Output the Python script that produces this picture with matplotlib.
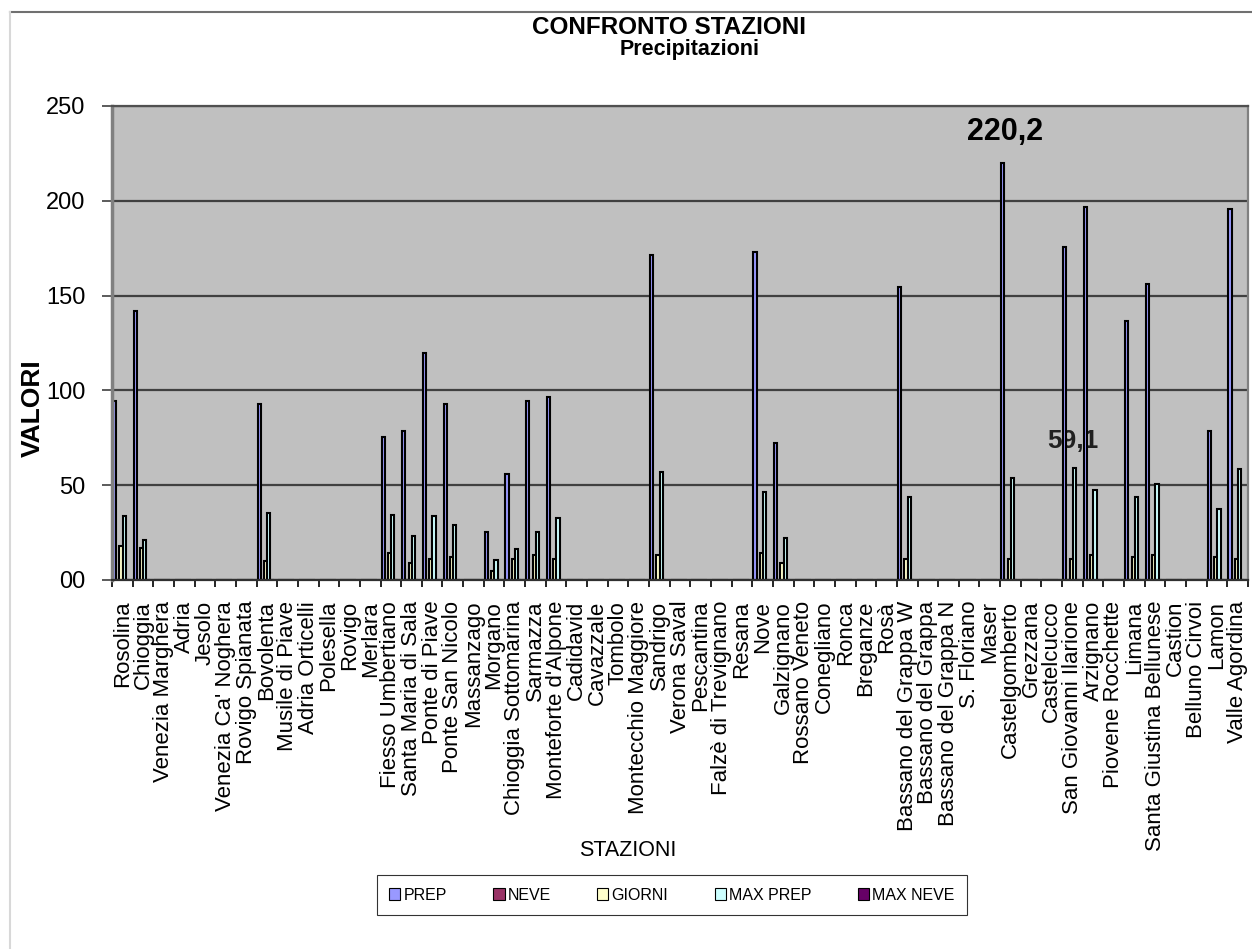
# =====================================
# CONFRONTO STAZIONI - PRECIPITAZIONI
# =====================================

import numpy as np
import matplotlib.pyplot as plt
from matplotlib.patches import Patch
from matplotlib.lines import Line2D
from matplotlib.ticker import FixedLocator

plt.rcParams["font.family"] = ["Liberation Sans", "DejaVu Sans"]

# ============================
# DATA
# ============================

stazioni = [
    "Rosolina", "Chioggia", "Venezia Marghera", "Adria", "Jesolo",
    "Venezia Ca' Noghera", "Rovigo Spianata", "Bovolenta", "Musile di Piave", "Adria Orticelli",
    "Polesella", "Rovigo", "Merlara", "Fiesso Umbertiano", "Santa Maria di Sala",
    "Ponte di Piave", "Ponte San Nicolo", "Massanzago", "Morgano", "Chioggia Sottomarina",
    "Sarmazza", "Monteforte d'Alpone", "Cadidavid", "Cavazzale", "Tombolo",
    "Montecchio Maggiore", "Sandrigo", "Verona Saval", "Pescantina", "Falzè di Trevignano",
    "Resana", "Nove", "Galzignano", "Rossano Veneto", "Conegliano",
    "Ronca", "Breganze", "Rosà", "Bassano del Grappa W", "Bassano del Grappa",
    "Bassano del Grappa N", "S. Floriano", "Maser", "Castelgomberto", "Grezzana",
    "Castelcucco", "San Giovanni Ilarione", "Arzignano", "Piovene Rocchette", "Limana",
    "Santa Giustina Bellunese", "Castion", "Belluno Cirvoi", "Lamon", "Valle Agordina",
]

prep = [
    94.4, 141.9, 0, 0, 0,
    0, 0, 92.8, 0, 0,
    0, 0, 0, 75.4, 78.6,
    119.7, 92.8, 0, 25.3, 56.0,
    94.4, 96.5, 0, 0, 0,
    0, 171.4, 0, 0, 0,
    0, 173.0, 72.0, 0, 0,
    0, 0, 0, 154.5, 0,
    0, 0, 0, 220.2, 0,
    0, 175.7, 196.7, 0, 136.6,
    156.0, 0, 0, 78.6, 195.6,
]

neve = [
    0, 0, 0, 0, 0,
    0, 0, 0, 0, 0,
    0, 0, 0, 0, 0,
    0, 0, 0, 0, 0,
    0, 0, 0, 0, 0,
    0, 0, 0, 0, 0,
    0, 0, 0, 0, 0,
    0, 0, 0, 0, 0,
    0, 0, 0, 0, 0,
    0, 0, 0, 0, 0,
    0, 0, 0, 0, 0,
]

giorni = [
    18, 17, 0, 0, 0,
    0, 0, 10, 0, 0,
    0, 0, 0, 14, 9,
    11, 12, 0, 5, 11,
    13, 11, 0, 0, 0,
    0, 13, 0, 0, 0,
    0, 14, 9, 0, 0,
    0, 0, 0, 11, 0,
    0, 0, 0, 11, 0,
    0, 11, 13, 0, 12,
    13, 0, 0, 12, 11,
]

max_prep = [
    33.7, 21.0, 0, 0, 0,
    0, 0, 35.3, 0, 0,
    0, 0, 0, 34.3, 23.0,
    33.7, 29.0, 0, 10.6, 16.3,
    25.3, 32.7, 0, 0, 0,
    0, 57.0, 0, 0, 0,
    0, 46.5, 22.0, 0, 0,
    0, 0, 0, 43.8, 0,
    0, 0, 0, 53.7, 0,
    0, 59.1, 47.5, 0, 44.0,
    50.6, 0, 0, 37.4, 58.5,
]

max_neve = [
    0, 0, 0, 0, 0,
    0, 0, 0, 0, 0,
    0, 0, 0, 0, 0,
    0, 0, 0, 0, 0,
    0, 0, 0, 0, 0,
    0, 0, 0, 0, 0,
    0, 0, 0, 0, 0,
    0, 0, 0, 0, 0,
    0, 0, 0, 0, 0,
    0, 0, 0, 0, 0,
    0, 0, 0, 0, 0,
]

serie_nomi = ["PREP", "NEVE", "GIORNI", "MAX PREP", "MAX NEVE"]
serie_colori = ["#9999FF", "#993366", "#FFFFCC", "#CCFFFF", "#660066"]
y_ticks = [0, 50, 100, 150, 200, 250]
y_tick_labels = ["00", "50", "100", "150", "200", "250"]

# ============================
# PLOT CHART
# ============================

fig = plt.figure(figsize=(12.52, 9.49), dpi=100)
ax = fig.add_axes([112 / 1252, 1 - 580 / 949, 1136 / 1252, 474 / 949])
ax.set_facecolor("#C0C0C0")
ax.set_axisbelow(True)

x = np.arange(len(stazioni))
w = 0.155
start = -0.45
for k, (vals, col) in enumerate(zip([prep, neve, giorni, max_prep, max_neve], serie_colori)):
    ax.bar(x + start + k * w, vals, width=w, align="edge",
           color=col, edgecolor="black", linewidth=1.5, zorder=2)

# annotations: max PREP and max MAX PREP
i_prep = int(np.argmax(prep))
ax.annotate(f"{prep[i_prep]:.1f}".replace(".", ","),
            xy=(i_prep + start + 0.5 * w, prep[i_prep]), xytext=(2, 11),
            textcoords="offset points", ha="center", va="bottom",
            fontsize=22, fontweight="bold", zorder=1)
i_max = int(np.argmax(max_prep))
ax.annotate(f"{max_prep[i_max]:.1f}".replace(".", ","),
            xy=(i_max + start + 3.5 * w, max_prep[i_max]), xytext=(-1, 11),
            textcoords="offset points", ha="center", va="bottom",
            fontsize=19, fontweight="bold", color="#202020", zorder=1)

# axes
ax.set_xlim(-0.5, len(stazioni) - 0.5)
ax.set_ylim(0, 250)
ax.set_yticks(y_ticks)
ax.set_yticklabels(y_tick_labels, fontsize=17)
ax.tick_params(axis="y", length=7, width=1.2, pad=12, color="#404040")
ax.set_xticks(x)
ax.set_xticklabels(stazioni, rotation=90, fontsize=16, va="top", ha="center")
ax.xaxis.set_minor_locator(FixedLocator(np.arange(len(stazioni) + 1) - 0.5))
ax.tick_params(axis="x", which="major", length=0, pad=15)
ax.tick_params(axis="x", which="minor", length=5, width=1.2, color="black")

ax.yaxis.grid(True, color="#404040", linewidth=1.6)
ax.spines["top"].set_color("#505050")
ax.spines["top"].set_linewidth(1.6)
ax.spines["left"].set_color("#808080")
ax.spines["left"].set_linewidth(2.5)
ax.spines["right"].set_color("#808080")
ax.spines["right"].set_linewidth(1.6)
ax.spines["bottom"].set_color("#303030")
ax.spines["bottom"].set_linewidth(1.6)

# titles and axis labels
fig.text(669 / 1252, 1 - 27 / 949, "CONFRONTO STAZIONI", ha="center", va="center",
         fontsize=17.5, fontweight="bold")
fig.text(690 / 1252, 1 - 50 / 949, "Precipitazioni", ha="center", va="center",
         fontsize=15.5, fontweight="bold")
fig.text(33 / 1252, 1 - 408 / 949, "VALORI", rotation=90, ha="center", va="center",
         fontsize=19, fontweight="bold")
fig.text(628 / 1252, 1 - 850 / 949, "STAZIONI", ha="center", va="center",
         fontsize=15.5)

# legend
handles = [Patch(facecolor=c, edgecolor="black", linewidth=0.8) for c in serie_colori]
leg = fig.legend(handles, serie_nomi, ncol=5, loc="center",
                 bbox_to_anchor=(672 / 1252, 1 - 895 / 949),
                 fontsize=11.5, frameon=True, fancybox=False, edgecolor="black",
                 handlelength=0.7, handleheight=0.7, handletextpad=0.2,
                 columnspacing=2.9, borderpad=0.8)
leg.get_frame().set_linewidth(0.8)

# chart area border
fig.add_artist(Line2D([10 / 1252, 1], [1 - 12 / 949, 1 - 12 / 949],
                      transform=fig.transFigure, color="#707070", linewidth=1.5))
fig.add_artist(Line2D([10 / 1252, 10 / 1252], [0, 1 - 12 / 949],
                      transform=fig.transFigure, color="#d8d8d8", linewidth=1.5))

# ============================
# SAVE RESULT
# ============================

fig.savefig("out.png", dpi=100)
print("Chart saved to out.png")
